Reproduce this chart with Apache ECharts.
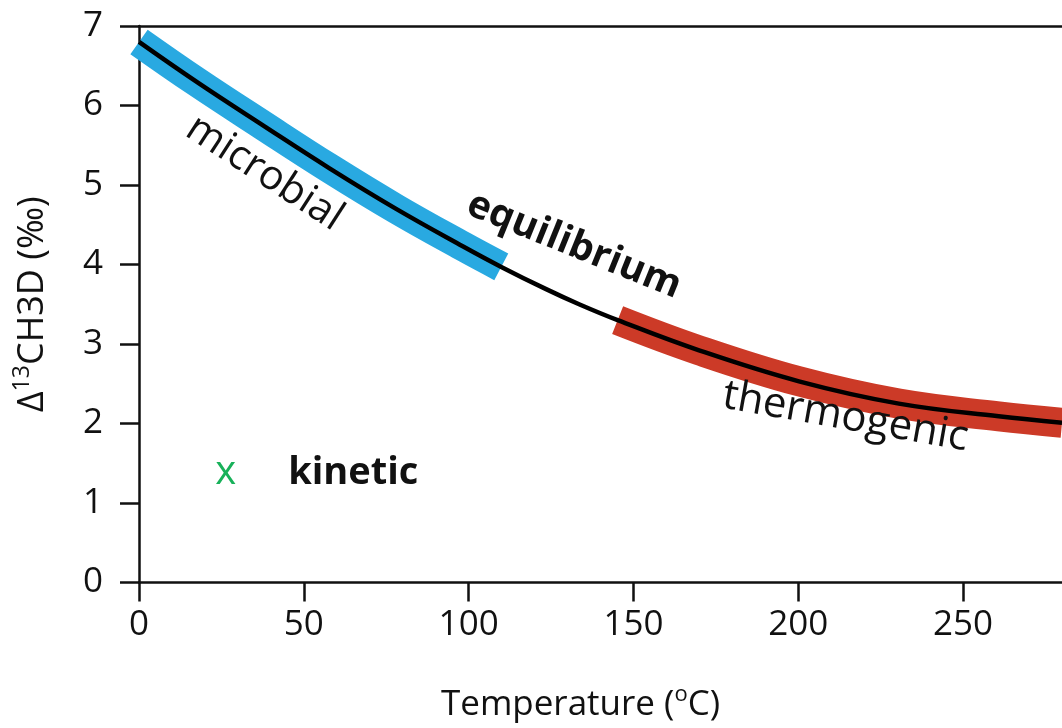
<!DOCTYPE html>
<html>
<head>
<meta charset="utf-8">
<script src="https://cdn.jsdelivr.net/npm/echarts@6/dist/echarts.min.js"></script>
<style>
html,body{margin:0;padding:0;background:#fff;}
#c{width:1062px;height:728px;}
</style>
</head>
<body>
<div id="c"></div>
<script>
// ---- data ----
const eqT = [0, 17.4, 37.6, 57.8, 78, 98.2, 109.9, 123.5, 133.5, 145.2, 169.9, 200.2, 230.5, 260.8, 280];
const eqD = [6.80, 6.30, 5.75, 5.21, 4.70, 4.23, 3.97, 3.69, 3.50, 3.30, 2.92, 2.53, 2.25, 2.09, 2.01];

const microbialT = [0, 17.4, 37.6, 57.8, 78, 98.2, 109.9];
const microbialD = [6.80, 6.30, 5.75, 5.21, 4.70, 4.23, 3.97];

const thermogenicT = [145.2, 169.9, 200.2, 230.5, 260.8, 280];
const thermogenicD = [3.30, 2.92, 2.53, 2.25, 2.09, 2.01];

const kineticT = [26.3];
const kineticD = [1.38];

const labelNames = ['microbial', 'equilibrium', 'thermogenic', 'kinetic'];
const labelT = [38.1, 132, 214.3, 65];
const labelD = [5.15, 4.24, 2.08, 1.38];
const labelRotate = [-33, -22, -10, 0];
const labelBold = [false, true, false, true];
const labelSize = [41, 39, 42, 38];

const xTicks = [0, 50, 100, 150, 200, 250];
const yTicks = [0, 1, 2, 3, 4, 5, 6, 7];

// ---- build ----
const zip = (a, b) => a.map((v, i) => [v, b[i]]);
const FONT = '"Open Sans", "Noto Sans", sans-serif';
const INK = '#111111';

const chart = echarts.init(document.getElementById('c'), null, {renderer: 'canvas'});

const labelData = labelNames.map((n, i) => ({
  value: [labelT[i], labelD[i]],
  label: {
    show: true,
    position: 'inside',
    formatter: n,
    rotate: labelRotate[i],
    fontSize: labelSize[i],
    fontWeight: labelBold[i] ? 'bold' : 'normal',
    fontFamily: FONT,
    color: INK,
    opacity: 1
  }
}));

chart.setOption({
  animation: false,
  backgroundColor: '#ffffff',
  grid: {left: 139, top: 26, right: 0, bottom: 142, containLabel: false},
  xAxis: [{
    type: 'value',
    min: 0, max: 280,
    interval: 50,
    splitLine: {show: false},
    axisLine: {show: true, onZero: false, lineStyle: {color: INK, width: 2.5}},
    axisTick: {show: true, length: 19, lineStyle: {color: INK, width: 2.5}, customValues: xTicks},
    axisLabel: {fontSize: 35, color: INK, fontFamily: FONT, margin: 25, customValues: xTicks},
    name: 'Temperature ({s|o}C)',
    nameLocation: 'middle',
    nameGap: 101,
    nameTextStyle: {
      fontSize: 35, color: INK, fontFamily: FONT, padding: [0, 40, 0, 0],
      rich: {s: {fontSize: 22, verticalAlign: 'top', color: INK, fontFamily: FONT, lineHeight: 44}}
    }
  }, {
    type: 'value',
    position: 'top',
    min: 0, max: 280,
    splitLine: {show: false},
    axisLine: {show: true, onZero: false, lineStyle: {color: INK, width: 2.5}},
    axisTick: {show: false},
    axisLabel: {show: false}
  }],
  yAxis: {
    type: 'value',
    min: 0, max: 7,
    interval: 1,
    splitLine: {show: false},
    axisLine: {show: true, onZero: false, lineStyle: {color: INK, width: 2.5}},
    axisTick: {show: true, length: 19, lineStyle: {color: INK, width: 2.5}, customValues: yTicks},
    axisLabel: {fontSize: 35, color: INK, fontFamily: FONT, margin: 36, customValues: yTicks},
    name: '{n|Δ}{s|13}{n|CH3D (‰)}',
    nameLocation: 'middle',
    nameRotate: 90,
    nameGap: 84,
    nameTextStyle: {
      rich: {
        n: {fontSize: 36, color: INK, fontFamily: FONT, lineHeight: 44},
        s: {fontSize: 23, color: INK, fontFamily: FONT, verticalAlign: 'top', lineHeight: 44}
      }
    }
  },
  series: [
    {
      name: 'microbial',
      type: 'line',
      data: zip(microbialT, microbialD),
      smooth: 0.4,
      showSymbol: false,
      symbol: 'none',
      clip: true,
      lineStyle: {color: '#29A9E1', width: 30, cap: 'butt'},
      z: 2
    },
    {
      name: 'thermogenic',
      type: 'line',
      data: zip(thermogenicT, thermogenicD),
      smooth: 0.4,
      showSymbol: false,
      symbol: 'none',
      clip: true,
      lineStyle: {color: '#CC3A27', width: 30, cap: 'butt'},
      z: 2
    },
    {
      name: 'equilibrium',
      type: 'line',
      data: zip(eqT, eqD),
      smooth: 0.4,
      showSymbol: false,
      symbol: 'none',
      clip: true,
      lineStyle: {color: '#000000', width: 4.5},
      z: 3
    },
    {
      name: 'kinetic',
      type: 'scatter',
      data: zip(kineticT, kineticD),
      symbolSize: 0,
      itemStyle: {opacity: 1},
      label: {
        show: true, position: 'inside', formatter: 'x',
        fontSize: 40, fontFamily: FONT, color: '#18B15A', opacity: 1
      },
      z: 4
    },
    {
      name: 'labels',
      type: 'scatter',
      data: labelData,
      symbolSize: 0,
      itemStyle: {opacity: 1},
      z: 5
    }
  ]
});
</script>
</body>
</html>
